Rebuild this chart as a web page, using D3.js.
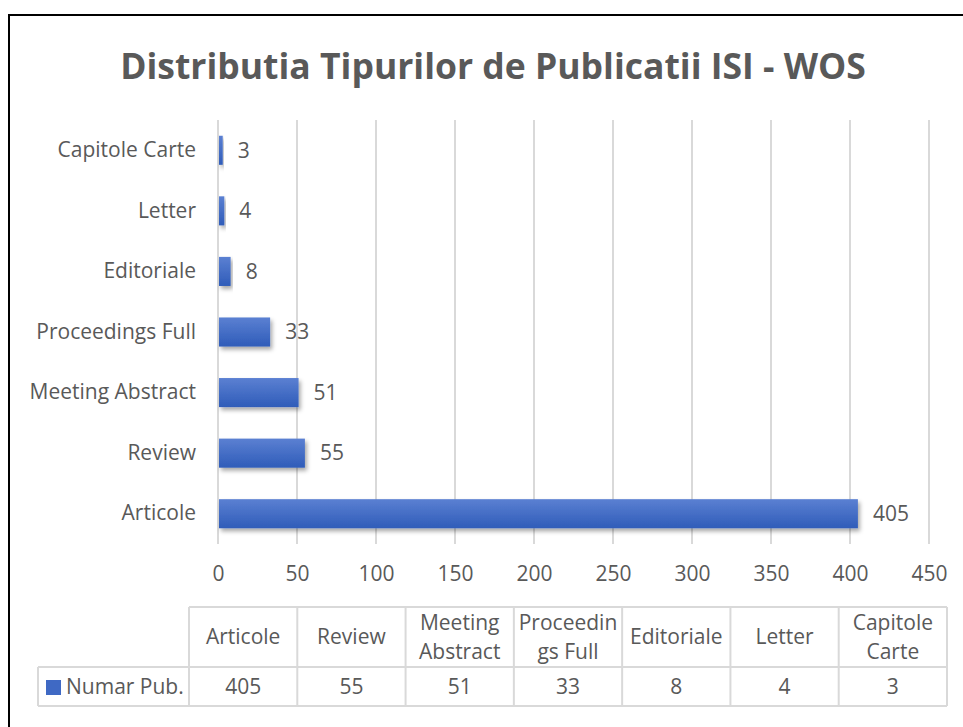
<!DOCTYPE html>
<html lang="ro">
<head>
<meta charset="UTF-8" />
<title>Distributia Tipurilor de Publicatii ISI - WOS</title>
<script src="https://d3js.org/d3.v7.min.js"></script>
<style>
  body { margin: 0; background: #fff; }
  svg text { font-family: "Open Sans", "Noto Sans", sans-serif; fill: #595959; }
</style>
</head>
<body>
<svg id="chart" width="963" height="727"></svg>
<script>
const categories = ["Articole", "Review", "Meeting Abstract", "Proceedings Full", "Editoriale", "Letter", "Capitole Carte"];
const values = [405, 55, 51, 33, 8, 4, 3];
const tableHeaders = [["Articole"], ["Review"], ["Meeting", "Abstract"], ["Proceedin", "gs Full"], ["Editoriale"], ["Letter"], ["Capitole", "Carte"]];
const seriesName = "Numar Pub.";
const xTicks = [0, 50, 100, 150, 200, 250, 300, 350, 400, 450];

const svg = d3.select("#chart");
const data = categories.map((c, i) => ({ cat: c, val: values[i] }));
const fs = "21px";

// frame
svg.append("rect").attr("x", 9).attr("y", 15).attr("width", 970).attr("height", 730)
  .attr("fill", "#fff").attr("stroke", "#000").attr("stroke-width", 2);

svg.append("text").attr("x", 493).attr("y", 79).attr("text-anchor", "middle")
  .style("font-size", "35.5px").style("font-weight", "bold")
  .text("Distributia Tipurilor de Publicatii ISI - WOS");

const defs = svg.append("defs");
const grad = defs.append("linearGradient").attr("id", "barGrad").attr("x1", 0).attr("y1", 0).attr("x2", 0).attr("y2", 1);
grad.append("stop").attr("offset", "0%").attr("stop-color", "#5b80d2");
grad.append("stop").attr("offset", "100%").attr("stop-color", "#2f5cb9");
const shadow = defs.append("filter").attr("id", "shadow").attr("x", "-10%").attr("y", "-30%").attr("width", "130%").attr("height", "180%");
shadow.append("feDropShadow").attr("dx", 2).attr("dy", 3).attr("stdDeviation", 2)
  .attr("flood-color", "#000").attr("flood-opacity", 0.35);

const x = d3.scaleLinear().domain([0, 450]).range([218, 929]);
const y = d3.scaleBand().domain(categories.slice().reverse()).range([120, 544]).paddingInner(0.52).paddingOuter(0.26);

// gridlines
svg.append("g").selectAll("line").data(xTicks).join("line")
  .attr("x1", d => x(d)).attr("x2", d => x(d)).attr("y1", 120).attr("y2", 544)
  .attr("stroke", "#d9d9d9").attr("stroke-width", 2);

// bars
svg.append("g").selectAll("rect").data(data).join("rect")
  .attr("x", x(0) + 1).attr("y", d => y(d.cat))
  .attr("width", d => x(d.val) - x(0) - 1).attr("height", y.bandwidth())
  .attr("fill", "url(#barGrad)").attr("filter", "url(#shadow)");

// value labels
svg.append("g").selectAll("text").data(data).join("text")
  .attr("x", d => x(d.val) + 15).attr("y", d => y(d.cat) + y.bandwidth() / 2)
  .attr("dy", "0.35em").style("font-size", fs).text(d => d.val);

// y axis labels
const yAxis = svg.append("g").attr("transform", `translate(${x(0)},0)`)
  .call(d3.axisLeft(y).tickSize(0).tickPadding(22));
yAxis.select(".domain").remove();
yAxis.selectAll("text").style("font-size", fs).attr("fill", "#595959")
  .style("font-family", "'Open Sans', sans-serif");

// x axis labels
const xAxis = svg.append("g").attr("transform", "translate(0,544)")
  .call(d3.axisBottom(x).tickValues(xTicks).tickSize(0).tickPadding(22));
xAxis.select(".domain").remove();
xAxis.selectAll("text").style("font-size", fs).attr("fill", "#595959")
  .style("font-family", "'Open Sans', sans-serif");

// data table
const colX = d3.scaleBand().domain(categories).range([189, 947]);
const tTop = 607, tMid = 667, tBot = 706, tLeft = 38;
const tg = svg.append("g").attr("stroke", "#d9d9d9").attr("stroke-width", 2);
tg.append("line").attr("x1", 189).attr("x2", 947).attr("y1", tTop).attr("y2", tTop);
tg.append("line").attr("x1", tLeft).attr("x2", 947).attr("y1", tMid).attr("y2", tMid);
tg.append("line").attr("x1", tLeft).attr("x2", 947).attr("y1", tBot).attr("y2", tBot);
tg.append("line").attr("x1", tLeft).attr("x2", tLeft).attr("y1", tMid).attr("y2", tBot);
tg.selectAll(".v").data(categories).join("line")
  .attr("x1", d => colX(d)).attr("x2", d => colX(d)).attr("y1", tTop).attr("y2", tBot);
tg.append("line").attr("x1", 947).attr("x2", 947).attr("y1", tTop).attr("y2", tBot);

const hdr = svg.append("g").selectAll("text").data(categories).join("text")
  .attr("text-anchor", "middle").style("font-size", fs)
  .attr("x", d => colX(d) + colX.bandwidth() / 2);
hdr.each(function (d, i) {
  const lines = tableHeaders[i];
  const t = d3.select(this);
  const mid = (tTop + tMid) / 2;
  lines.forEach((l, j) => {
    t.append("tspan").attr("x", colX(d) + colX.bandwidth() / 2)
      .attr("y", mid + (j - (lines.length - 1) / 2) * 29).attr("dy", "0.35em").text(l);
  });
});

svg.append("g").selectAll("text").data(data).join("text")
  .attr("text-anchor", "middle").style("font-size", fs)
  .attr("x", d => colX(d.cat) + colX.bandwidth() / 2).attr("y", (tMid + tBot) / 2)
  .attr("dy", "0.35em").text(d => d.val);

svg.append("rect").attr("x", 46).attr("y", 680).attr("width", 15).attr("height", 15).attr("fill", "#3f69c4");
svg.append("text").attr("x", 66).attr("y", (tMid + tBot) / 2).attr("dy", "0.35em")
  .style("font-size", fs).text(seriesName);
</script>
</body>
</html>
